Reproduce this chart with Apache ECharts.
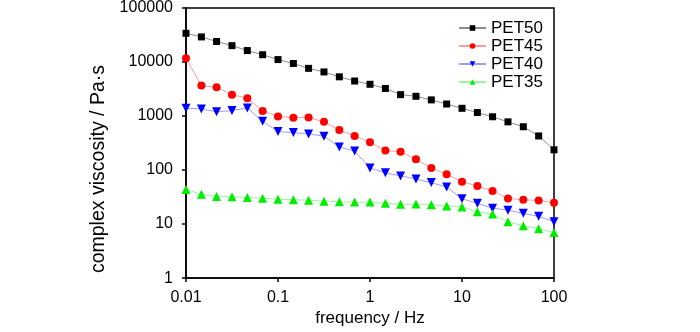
<!DOCTYPE html>
<html>
<head>
<meta charset="utf-8">
<script src="https://cdn.jsdelivr.net/npm/echarts@6/dist/echarts.min.js"></script>
<style>
html,body{margin:0;padding:0;background:#fff;}
#chart{width:700px;height:332px;}
</style>
</head>
<body>
<div id="chart"></div>
<script>
const freq = [0.01, 0.0147, 0.0215, 0.0316, 0.0464, 0.0681, 0.1, 0.147, 0.215, 0.316, 0.464, 0.681, 1, 1.47, 2.15, 3.16, 4.64, 6.81, 10, 14.7, 21.5, 31.6, 46.4, 68.1, 100];
const pet50 = [34000, 29150, 24000, 20100, 16300, 13650, 11100, 9400, 7640, 6550, 5320, 4450, 3870, 3240, 2490, 2320, 1990, 1670, 1390, 1160, 970, 780, 634, 428, 237];
const pet45 = [11800, 3660, 3410, 2490, 2140, 1245, 985, 931, 944, 780, 551, 428, 327, 230, 218, 158, 109, 84, 61, 50.5, 41, 29.8, 28.2, 27.4, 24.9];
const pet40 = [1393, 1355, 1195, 1262, 1412, 800, 515, 494, 466, 424, 268, 225, 109, 88.7, 78, 68, 58.6, 48.4, 29.4, 24.2, 19.7, 18.1, 15.8, 13.9, 11.1];
const pet35 = [43.8, 35.6, 32.4, 32, 31, 30.1, 28.9, 28.2, 27.7, 26.6, 25.9, 25.5, 25.5, 24.2, 23.2, 23.5, 22.9, 21.6, 20.8, 16.9, 15.3, 11, 9.3, 8.2, 7.0];
const seriesNames = ['PET50', 'PET45', 'PET40', 'PET35'];
const xLabel = 'frequency / Hz';
const yLabel = 'complex viscosity / Pa\u00B7s';

const FONT = '"Liberation Sans", Arial, sans-serif';
const fmt = v => String(Number(v.toPrecision(6)));
const pairs = arr => arr.map((v, i) => [freq[i], v]);

const styles = [
  {data: pet50, symbol: 'rect', size: 7, rot: 0, mc: '#000000', lc: '#8c8c8c'},
  {data: pet45, symbol: 'circle', size: 8, rot: 0, mc: '#ff0000', lc: '#ff9c9c'},
  {data: pet40, symbol: 'triangle', size: 9, rot: 180, mc: '#0000ff', lc: '#9c9cff'},
  {data: pet35, symbol: 'triangle', size: 9, rot: 0, mc: '#00ee00', lc: '#9cf59c'}
];

const chart = echarts.init(document.getElementById('chart'), null, {renderer: 'canvas'});
chart.setOption({
  animation: false,
  backgroundColor: '#fff',
  grid: {left: 186, right: 146, top: 7, bottom: 48, show: true, borderColor: '#000', borderWidth: 1.5, backgroundColor: 'transparent'},
  legend: {
    orient: 'vertical', left: 453, top: 14,
    itemWidth: 27, itemHeight: 7, itemGap: 0,
    textStyle: {fontFamily: FONT, fontSize: 17, color: '#000', lineHeight: 18},
    data: seriesNames
  },
  xAxis: {
    type: 'log', logBase: 10, min: 0.01, max: 100,
    name: xLabel, nameLocation: 'middle', nameGap: 30,
    nameTextStyle: {fontFamily: FONT, fontSize: 17, color: '#000'},
    axisLine: {lineStyle: {color: '#000', width: 1.5}},
    axisTick: {show: true, inside: false, length: 4, lineStyle: {color: '#000', width: 1.5}},
    minorTick: {show: false},
    splitLine: {show: false},
    axisLabel: {fontFamily: FONT, fontSize: 16, color: '#000', margin: 11, formatter: fmt, showMinLabel: true, showMaxLabel: true}
  },
  yAxis: {
    type: 'log', logBase: 10, min: 1, max: 100000,
    name: yLabel, nameLocation: 'middle', nameGap: 52, nameRotate: 90,
    nameTextStyle: {fontFamily: FONT, fontSize: 19.5, color: '#000', padding: [0, 52, 0, 0]},
    axisLine: {lineStyle: {color: '#000', width: 1.5}},
    axisTick: {show: true, inside: false, length: 4, lineStyle: {color: '#000', width: 1.5}},
    splitLine: {show: false},
    axisLabel: {fontFamily: FONT, fontSize: 16, color: '#000', margin: 13, formatter: fmt}
  },
  series: styles.map((s, i) => ({
    name: seriesNames[i],
    type: 'line',
    data: pairs(s.data),
    symbol: s.symbol,
    symbolSize: s.size,
    symbolRotate: s.rot,
    showAllSymbol: true,
    clip: false,
    itemStyle: {color: s.mc, borderWidth: 0},
    lineStyle: {color: s.lc, width: 1}
  }))
});
</script>
</body>
</html>
